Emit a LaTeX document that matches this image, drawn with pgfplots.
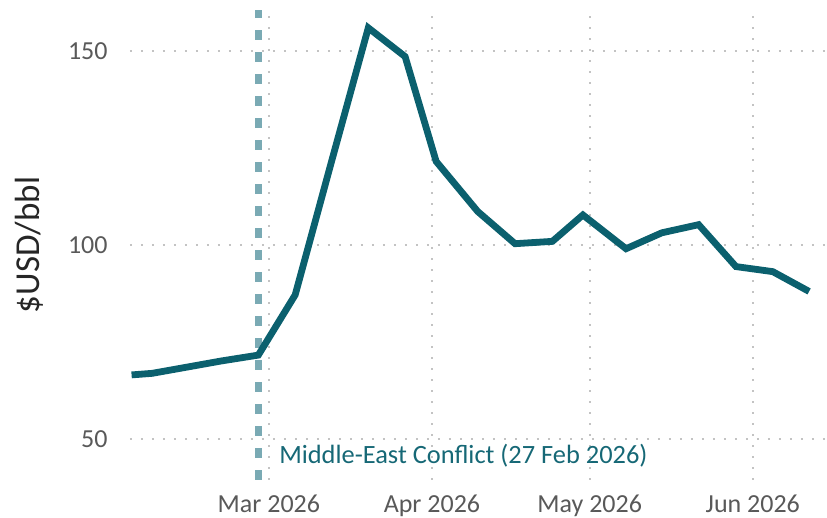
\documentclass[border=0pt]{standalone}
\usepackage{fontspec}
\setmainfont{Carlito}
\usepackage{pgfplots}
\pgfplotsset{compat=1.18}
\definecolor{lineteal}{RGB}{11,96,110}
\definecolor{dashteal}{RGB}{122,170,180}
\definecolor{textteal}{RGB}{22,104,118}
\definecolor{ticktext}{RGB}{89,89,89}
\definecolor{gridc}{RGB}{195,195,195}
\begin{document}
\begin{tikzpicture}
\begin{axis}[
  scale only axis,
  width=348.5pt, height=235pt,
  at={(0,0)}, anchor=south west,
  xmin=-26.4, xmax=106.1,
  ymin=39.43, ymax=160.5,
  clip=false,
  axis line style={draw=none},
  major tick length=0pt,
  xtick={0,31,61,92},
  xticklabels={Mar 2026,Apr 2026,May 2026,Jun 2026},
  ytick={50,100,150},
  /pgf/number format/assume math mode=true,
  ticklabel style={font=\fontsize{13}{15}\selectfont, text=ticktext, inner sep=0pt},
  xticklabel style={anchor=north, yshift=-7.5pt},
  yticklabel style={anchor=east, xshift=-11pt},
  xmajorgrids, ymajorgrids,
  grid style={draw=gridc, line width=0.9pt, dash pattern=on 0.9pt off 4.6pt},
]
\addplot[dashteal, line width=3.3pt, dash pattern=on 5pt off 6pt, forget plot] coordinates {(-2,39.43) (-2,160.5)};
\addplot[lineteal, line width=3.4pt, no marks] coordinates {
(-26.1,66.5)
(-22.2,66.9)
(-16,68.4)
(-9,70.1)
(-2,71.6)
(5,87.1)
(12,121.9)
(18.9,155.9)
(25.9,148.5)
(31.8,121.5)
(39.7,108.6)
(46.8,100.3)
(53.9,100.9)
(59.7,107.7)
(67.9,99.0)
(74.7,103.1)
(81.7,105.2)
(88.8,94.4)
(95.8,93.1)
(102.7,88.0)
};
\node[anchor=base west, inner sep=0pt, text=textteal, font=\fontsize{13.2}{15}\selectfont] at (axis cs:1.9,43.8) {Middle-East Conflict (27 Feb 2026)};
\node[rotate=90, anchor=north, inner sep=0pt, text=black!85, font=\fontsize{17.5}{20}\selectfont] at ([xshift=-57.5pt]rel axis cs:0,0.5) {\$USD/bbl};
\end{axis}
\pgfresetboundingbox
\useasboundingbox (-65pt,-19pt) rectangle (348.5pt,240pt);
\end{tikzpicture}
\end{document}
